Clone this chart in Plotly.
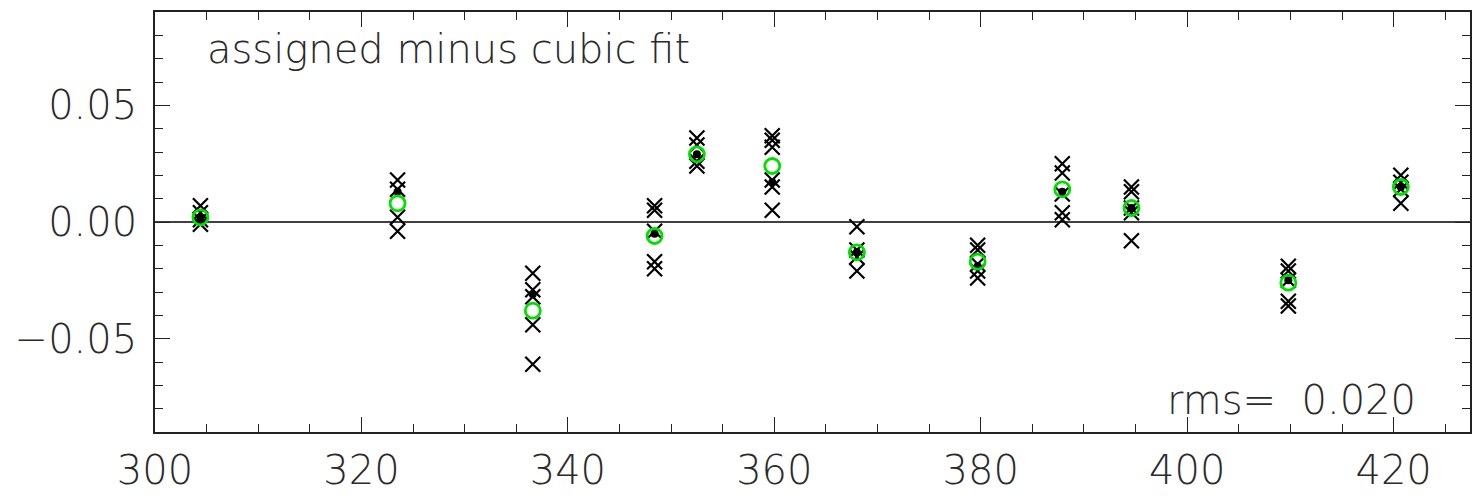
import plotly.graph_objects as go

# cluster x positions
wl = [304.4, 323.5, 336.6, 348.4, 352.5, 359.8, 368.0, 379.7, 387.9, 394.6, 409.8, 420.7]

# individual residuals (crosses) per cluster
cross_vals = [
    [0.007, 0.004, 0.001, -0.001],
    [0.018, 0.014, 0.002, -0.004],
    [-0.022, -0.029, -0.032, -0.044, -0.061],
    [0.007, 0.005, -0.004, -0.017, -0.020],
    [0.036, 0.033, 0.026, 0.024],
    [0.037, 0.035, 0.032, 0.018, 0.015, 0.005],
    [-0.002, -0.012, -0.015, -0.021],
    [-0.010, -0.012, -0.018, -0.021, -0.024],
    [0.025, 0.021, 0.012, 0.004, 0.001],
    [0.015, 0.013, 0.006, 0.004, -0.008],
    [-0.019, -0.021, -0.025, -0.034, -0.036],
    [0.020, 0.017, 0.014, 0.008],
]
# green circles
circle_vals = [0.002, 0.008, -0.038, -0.006, 0.029, 0.024, -0.013, -0.017, 0.014, 0.006, -0.026, 0.015]
# black dots
dot_vals = [0.002, 0.013, -0.031, -0.005, 0.029, 0.017, -0.013, -0.019, 0.013, 0.006, -0.025, 0.015]

xticks = [300, 320, 340, 360, 380, 400, 420]
yticks = [-0.05, 0.0, 0.05]
ytick_text = ["\u22120.05", "0.00", "0.05"]

cx, cy = [], []
for x, vals in zip(wl, cross_vals):
    for v in vals:
        cx.append(x)
        cy.append(v)

fig = go.Figure()
fig.add_trace(go.Scatter(x=[295, 430], y=[0, 0], mode="lines",
                         line=dict(color="black", width=1.6), hoverinfo="skip"))
fig.add_trace(go.Scatter(x=cx, y=cy, mode="markers",
                         marker=dict(symbol="x-thin", size=15, color="black",
                                     line=dict(color="black", width=2.2))))
fig.add_trace(go.Scatter(x=wl, y=dot_vals, mode="markers",
                         marker=dict(symbol="circle", size=8, color="black")))
fig.add_trace(go.Scatter(x=wl, y=circle_vals, mode="markers",
                         marker=dict(symbol="circle-open", size=15, color="#00e000",
                                     line=dict(color="#00e000", width=2.8))))

font = dict(family="DejaVu Sans, Liberation Sans, sans-serif", color="#2a2a2a", weight=200)
axis_common = dict(showgrid=False, zeroline=False, showline=True, linecolor="#222222",
                   linewidth=1.6, mirror="ticks", ticks="inside", ticklen=15,
                   tickcolor="#222222", tickwidth=1.3)

fig.update_layout(
    width=1476, height=504,
    margin=dict(l=155, r=4, t=12, b=72),
    paper_bgcolor="white", plot_bgcolor="white",
    showlegend=False,
    font=font,
    xaxis=dict(range=[300, 427.4], tickvals=xticks, ticktext=[str(v) for v in xticks],
               tickfont=dict(size=40, **font), ticklabelstandoff=2,
               minor=dict(ticks="inside", ticklen=8, dtick=5, tickcolor="#222222", tickwidth=1.1),
               **axis_common),
    yaxis=dict(range=[-0.09, 0.09], tickvals=yticks, ticktext=ytick_text,
               tickfont=dict(size=40, **font), ticklabelstandoff=8,
               minor=dict(ticks="inside", ticklen=8, dtick=0.01, tickcolor="#222222", tickwidth=1.1),
               **axis_common),
    annotations=[
        dict(x=0.038, y=0.912, xref="paper", yref="paper", xanchor="left", yanchor="middle",
             text="assigned minus cubic fit", showarrow=False, font=dict(size=40, **font)),
        dict(x=0.9605, y=0.076, xref="paper", yref="paper", xanchor="right", yanchor="middle",
             text="rms=  0.020", showarrow=False, font=dict(size=40, **font)),
    ],
)

fig.write_html("out.html")
